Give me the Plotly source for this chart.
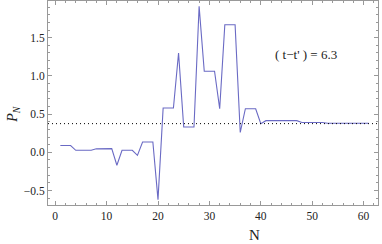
import plotly.graph_objects as go

N = list(range(1, 62))
P = [0.088, 0.088, 0.088, 0.026, 0.026, 0.026, 0.026, 0.045, 0.048, 0.048,
     0.048, -0.17, 0.026, 0.026, 0.026, -0.04, 0.135, 0.135, 0.135, -0.62,
     0.58, 0.58, 0.58, 1.30, 0.33, 0.33, 0.33, 1.91, 1.06, 1.06,
     1.06, 0.57, 1.67, 1.67, 1.67, 0.26, 0.57, 0.57, 0.57, 0.375,
     0.414, 0.414, 0.414, 0.414, 0.414, 0.414, 0.414, 0.39, 0.39, 0.39,
     0.39, 0.39, 0.38, 0.38, 0.38, 0.38, 0.38, 0.38, 0.38, 0.38, 0.38]
ref_level = 0.375
x_ticks = [0, 10, 20, 30, 40, 50, 60]
y_ticks = [-0.5, 0.0, 0.5, 1.0, 1.5]
y_labels = ["−0.5", "0.0", "0.5", "1.0", "1.5"]
label_text = "( t−t' ) = 6.3"

fig = go.Figure()
fig.add_trace(go.Scatter(x=N, y=P, mode="lines",
                         line=dict(color="#6a6ac4", width=1.1),
                         showlegend=False, hoverinfo="skip"))
fig.add_shape(type="line", xref="paper", yref="y", x0=0, x1=1,
              y0=ref_level, y1=ref_level,
              line=dict(color="black", width=1, dash="1px,3px"))

font = dict(family="Liberation Serif", size=11.5, color="#222")
axis_common = dict(showgrid=False, zeroline=False, showline=True,
                   linecolor="#999", linewidth=1, mirror="ticks",
                   ticks="inside", ticklen=4, tickcolor="#999",
                   tickfont=font)
fig.update_xaxes(range=[-1.4, 62.8], tickvals=x_ticks,
                 minor=dict(dtick=2, tick0=0, ticks="inside", ticklen=2,
                            tickcolor="#999"),
                 **axis_common)
fig.update_yaxes(range=[-0.69, 1.98], tickvals=y_ticks, ticktext=y_labels,
                 minor=dict(dtick=0.1, tick0=0, ticks="inside", ticklen=2,
                            tickcolor="#999"),
                 **axis_common)

fig.add_annotation(text=label_text, xref="x", yref="y", x=48.8, y=1.28,
                   showarrow=False,
                   font=dict(family="Liberation Serif", size=13, color="#222"))
fig.add_annotation(text="N", xref="paper", yref="paper", x=0.625, y=-0.147,
                   yanchor="middle", showarrow=False,
                   font=dict(family="Liberation Serif", size=15, color="#222"))
fig.add_annotation(text="<i>P</i><sub><i>N</i></sub>", xref="paper",
                   yref="paper", x=-0.136, y=0.445, textangle=-90,
                   showarrow=False,
                   font=dict(family="Liberation Serif", size=14, color="#222"))

fig.update_layout(width=382, height=244,
                  margin=dict(l=48, r=4, t=1, b=39),
                  plot_bgcolor="white", paper_bgcolor="white")
fig.write_html("out.html", config={"displayModeBar": False},
               post_script="document.body.style.margin='0';")
